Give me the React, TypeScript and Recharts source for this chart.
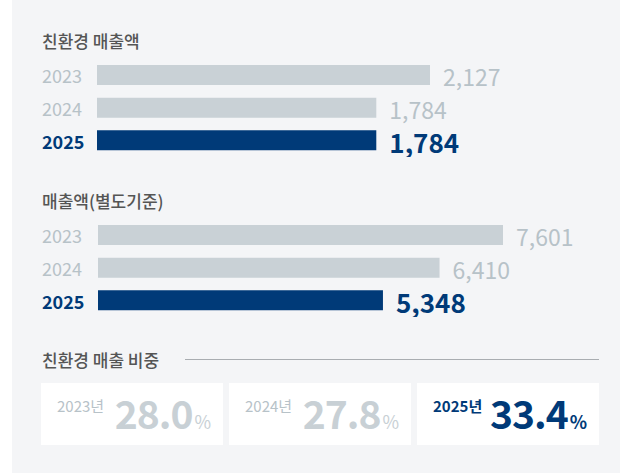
import React from "react"
import { BarChart, Bar, XAxis, YAxis, Cell, LabelList } from "recharts"

const years = ["2023", "2024", "2025"]
const ecoSales = [2127, 1784, 1784]
const separateSales = [7601, 6410, 5348]
const ecoShare = [28.0, 27.8, 33.4]

const NAVY = "#003a78"
const BAR_GRAY = "#c9d1d6"
const TEXT_GRAY = "#b7c2c8"
const FONT = "'Noto Sans CJK KR', 'Noto Sans', sans-serif"

const fmt = (v: number) => v.toLocaleString("en-US")

function YearTick(props: any) {
  const last = props.payload.value === years[years.length - 1]
  return (
    <text
      x={42}
      y={props.y}
      dominantBaseline="central"
      fontFamily={FONT}
      fontSize={18}
      fontWeight={last ? 700 : 400}
      fill={last ? NAVY : TEXT_GRAY}
    >
      {props.payload.value}
    </text>
  )
}

function ValueLabel(props: any) {
  const { x, y, width, height, value, index } = props
  const last = index === years.length - 1
  return (
    <text
      x={Number(x) + Number(width) + 13}
      y={Number(y) + Number(height) / 2 + 1}
      dominantBaseline="central"
      fontFamily={FONT}
      fontSize={last ? 26 : 23}
      fontWeight={last ? 700 : 400}
      fill={last ? NAVY : TEXT_GRAY}
    >
      {fmt(Number(value))}
    </text>
  )
}

function SalesBars({ values, axisWidth, right }: { values: number[]; axisWidth: number; right: number }) {
  const data = years.map((year, i) => ({ year, value: values[i] }))
  return (
    <BarChart width={620} height={98} data={data} layout="vertical" margin={{ top: 0, right, bottom: 0, left: 0 }} style={{ overflow: "visible" }}>
      <XAxis type="number" domain={[0, Math.max(...values)]} hide />
      <YAxis type="category" dataKey="year" width={axisWidth} axisLine={false} tickLine={false} tick={YearTick} />
      <Bar dataKey="value" barSize={20} isAnimationActive={false}>
        {data.map((d, i) => (
          <Cell key={d.year} fill={i === data.length - 1 ? NAVY : BAR_GRAY} />
        ))}
        <LabelList dataKey="value" content={ValueLabel} />
      </Bar>
    </BarChart>
  )
}

const titleStyle: React.CSSProperties = {
  position: "absolute",
  left: 42,
  fontSize: 17,
  fontWeight: 500,
  color: "#555",
  lineHeight: "20px",
}

export default function App() {
  return (
    <div style={{ position: "relative", width: 620, height: 473, background: "#fff", fontFamily: FONT }}>
      <style>{"body{margin:0}"}</style>
      <div style={{ position: "absolute", left: 12, top: 0, right: 0, bottom: 0, background: "#f4f5f7" }} />

      <div style={{ ...titleStyle, top: 31 }}>친환경 매출액</div>
      <div style={{ position: "absolute", left: 0, top: 59 }}>
        <SalesBars values={ecoSales} axisWidth={97} right={190} />
      </div>

      <div style={{ ...titleStyle, top: 191 }}>매출액(별도기준)</div>
      <div style={{ position: "absolute", left: 0, top: 219 }}>
        <SalesBars values={separateSales} axisWidth={98} right={117} />
      </div>

      <div style={{ ...titleStyle, top: 350 }}>친환경 매출 비중</div>
      <div style={{ position: "absolute", left: 185, right: 21, top: 359, height: 1, background: "#a9adb1" }} />

      {ecoShare.map((v, i) => {
        const last = i === ecoShare.length - 1
        const color = last ? NAVY : "#c8d0d5"
        return (
          <div
            key={years[i]}
            style={{
              position: "absolute",
              left: 41 + i * 188,
              top: 383,
              width: 182,
              height: 62,
              background: "#fff",
            }}
          >
            <div
              style={{
                position: "absolute",
                left: 16,
                top: 14,
                fontSize: 15,
                lineHeight: "18px",
                fontWeight: last ? 700 : 400,
                color: last ? NAVY : TEXT_GRAY,
              }}
            >
              {years[i]}년
            </div>
            <div
              style={{
                position: "absolute",
                right: 12,
                top: 6,
                whiteSpace: "nowrap",
                color,
                fontWeight: 700,
              }}
            >
              <span style={{ fontSize: 39, lineHeight: "47px", letterSpacing: -1 }}>{v.toFixed(1)}</span>
              <span style={{ fontSize: 18, fontWeight: last ? 700 : 400, marginLeft: 2 }}>%</span>
            </div>
          </div>
        )
      })}
    </div>
  )
}
